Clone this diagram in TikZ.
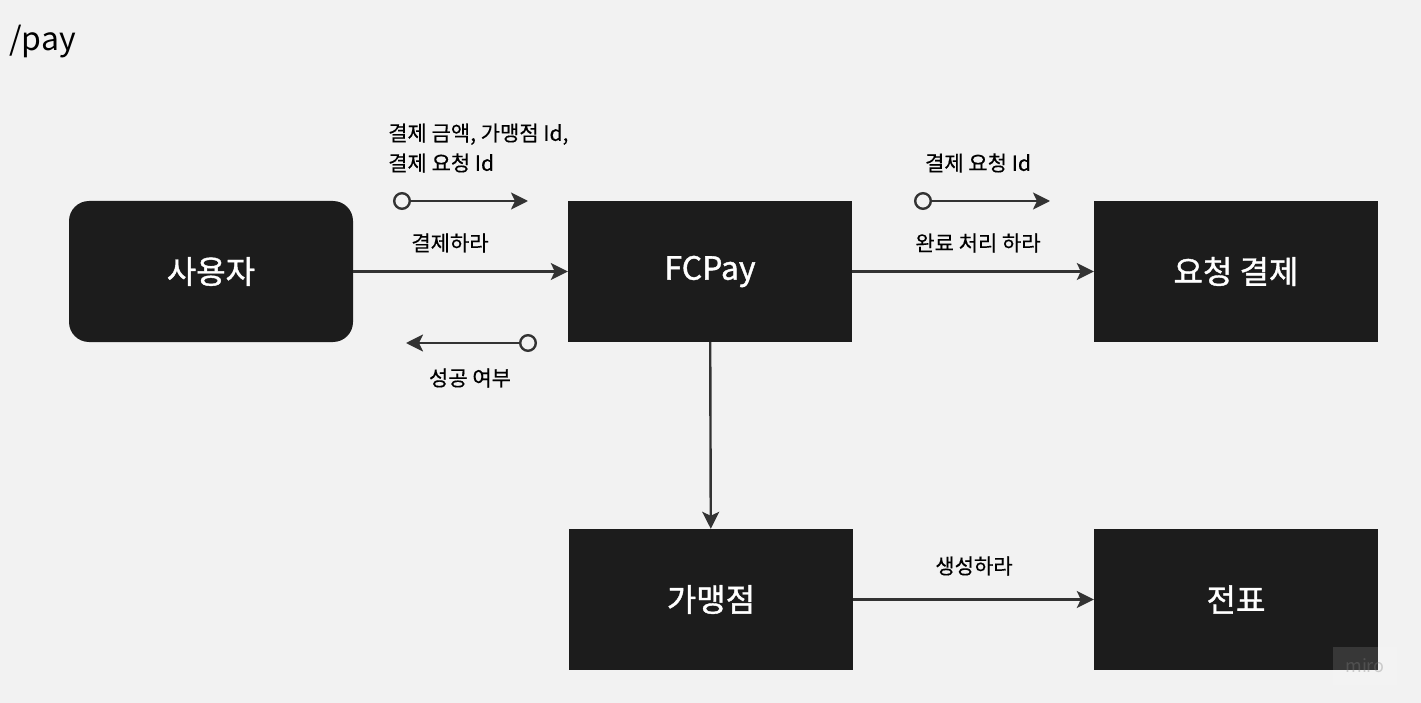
\documentclass[tikz,border=0pt]{standalone}
\usepackage{fontspec}
\setmainfont{Noto Sans CJK KR}
\newfontfamily\lblfam{Noto Sans CJK KR}[FakeBold=0.3]
\newfontfamily\bxfam{Noto Sans CJK KR}[FakeBold=1.2]
\usetikzlibrary{arrows.meta}
\definecolor{bgclr}{HTML}{F2F2F2}
\definecolor{boxclr}{HTML}{1C1C1C}
\definecolor{lineclr}{HTML}{333333}
\newcommand{\bxw}{284pt}
\newcommand{\bxh}{141pt}
\newcommand{\lblfont}{\lblfam\fontsize{21}{30}\selectfont}
\newcommand{\boxfont}{\bxfam\fontsize{32}{38}\selectfont}
\tikzset{
  box/.style={fill=boxclr, text=white, minimum width=\bxw,
    minimum height=\bxh, inner sep=0pt, font=\boxfont},
  flow/.style={draw=lineclr, line width=2.4pt,
    -{Stealth[length=17pt,width=17pt,inset=4pt]}},
  msg/.style={draw=lineclr, line width=2.4pt,
    {Circle[open,length=18pt,width=18pt,line width=2.4pt]}-{Stealth[length=17pt,width=17pt,inset=4pt]}},
  lbl/.style={font=\lblfont, text=black, inner sep=0pt}
}

\begin{document}
\begin{tikzpicture}[x=1pt,y=-1pt]

    \fill[bgclr] (0,0) rectangle (1421,703);
    \useasboundingbox (0,0) rectangle (1421,703);

    \node[anchor=west, font=\fontsize{32}{38}\selectfont, inner sep=0pt]
      (title) at (9,42) {/pay};

    \node[box, rounded corners=20pt] (user) at (211,271.5) {사용자};
    \node[box] (fcpay) at (710,271.5) {FCPay};
    \node[box] (req) at (1236,271.5) {요청 결제};
    \node[box] (store) at (711,599.5) {가맹점};
    \node[box] (slip) at (1236,599.5) {전표};

    \draw[flow] (user) -- (fcpay);
    \draw[flow] (fcpay) -- (req);
    \draw[flow] (fcpay) -- (store);
    \draw[flow] (store) -- (slip);

    \node[lbl] (lpay) at (450,243) {결제하라};
    \node[lbl] (ldone) at (978,243) {완료 처리 하라};
    \node[lbl] (lmake) at (974,566) {생성하라};

    \coordinate (reqs) at (393,201);
    \coordinate (reqe) at (528,201);
    \coordinate (ress) at (537,343);
    \coordinate (rese) at (406,343);
    \coordinate (dons) at (914,201);
    \coordinate (done) at (1050,201);
    \draw[msg] (reqs) -- (reqe);
    \draw[msg] (ress) -- (rese);
    \draw[msg] (dons) -- (done);

    \node[lbl, anchor=west, align=left] (lreq) at (388,148)
      {결제 금액, 가맹점 Id,\\결제 요청 Id};
    \node[lbl] (lres) at (470,378) {성공 여부};
    \node[lbl] (ldid) at (978,163) {결제 요청 Id};

    \node[fill=white, fill opacity=0.12, text opacity=0.35, text=gray,
      minimum width=64pt, minimum height=38pt, inner sep=0pt,
      font=\fontsize{18}{20}\selectfont] (wm) at (1365,666) {miro};
  \end{tikzpicture}
\end{document}
